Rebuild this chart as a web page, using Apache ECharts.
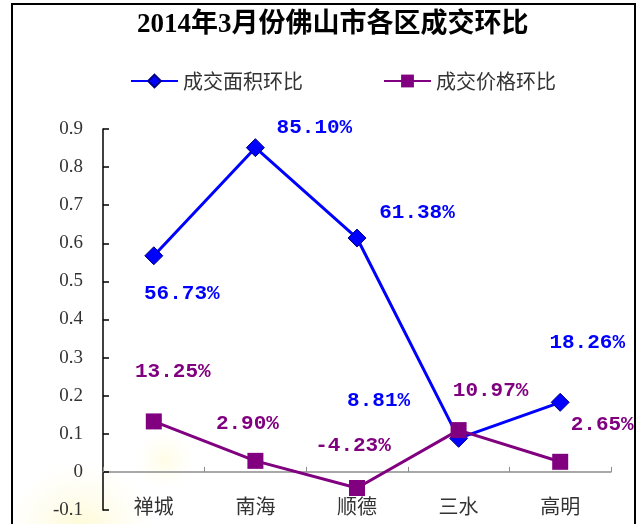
<!DOCTYPE html>
<html>
<head>
<meta charset="utf-8">
<script src="https://cdn.jsdelivr.net/npm/echarts@6/dist/echarts.min.js"></script>
<style>html,body{margin:0;padding:0;background:#fff;}#c{width:641px;height:524px;}</style>
</head>
<body>
<div id="c"></div>
<script>
// ---- data ----
var categories = ['禅城', '南海', '顺德', '三水', '高明'];
var areaName = '成交面积环比';
var priceName = '成交价格环比';
var areaValues = [0.5673, 0.8510, 0.6138, 0.0881, 0.1826];
var priceValues = [0.1325, 0.0290, -0.0423, 0.1097, 0.0265];
var yTicks = { min: -0.1, max: 0.9, interval: 0.1 };
var titleText = '2014年3月份佛山市各区成交环比';

// label offsets (styling, px relative to each marker)
var areaLabelOffsets = [[28, 38], [59, -20], [60, -25], [-80, -38], [27, -60]];
var priceLabelOffsets = [[19, -50], [-8, -37], [-4, -42], [32, -39], [42, -37]];

function pct(v) { return (v * 100).toFixed(2) + '%'; }

function buildData(values, offsets, color) {
  return values.map(function (v, i) {
    return {
      value: v,
      label: {
        show: true,
        position: 'inside',
        offset: offsets[i],
        align: 'center',
        verticalAlign: 'middle',
        formatter: function (p) { return pct(p.value); },
        color: color,
        fontFamily: '"Liberation Mono", "DejaVu Sans Mono", monospace',
        fontWeight: 'bold',
        fontSize: 21
      }
    };
  });
}

var chart = echarts.init(document.getElementById('c'), null, { renderer: 'canvas' });
chart.setOption({
  backgroundColor: '#ffffff',
  animation: false,
  graphic: [
    {
      type: 'circle', z: -10, silent: true,
      shape: { cx: 80, cy: 535, r: 75 },
      style: { fill: new echarts.graphic.RadialGradient(0.5, 0.5, 0.5, [
        { offset: 0, color: 'rgba(255,245,170,0.55)' },
        { offset: 1, color: 'rgba(255,250,210,0)' }
      ]) }
    },
    {
      type: 'circle', z: -10, silent: true,
      shape: { cx: 165, cy: 460, r: 30 },
      style: { fill: new echarts.graphic.RadialGradient(0.5, 0.5, 0.5, [
        { offset: 0, color: 'rgba(255,250,190,0.4)' },
        { offset: 1, color: 'rgba(255,250,220,0)' }
      ]) }
    },
    {
      type: 'rect', z: 100, silent: true,
      shape: { x: 12, y: 4, width: 623, height: 540 },
      style: { fill: 'none', stroke: '#000', lineWidth: 2 }
    }
  ],
  title: {
    text: titleText,
    left: 137,
    top: 12,
    padding: 0,
    textStyle: {
      fontFamily: '"Liberation Serif", "Noto Sans CJK SC", serif',
      fontSize: 27,
      fontWeight: 'bold',
      color: '#000'
    }
  },
  legend: {
    left: 130,
    top: 71,
    padding: 0,
    itemWidth: 47,
    itemHeight: 16,
    itemGap: 80,
    textStyle: {
      fontFamily: '"Noto Sans CJK SC", sans-serif',
      fontSize: 20,
      color: '#333'
    },
    data: [areaName, priceName]
  },
  grid: { left: 103, right: 30, top: 129, bottom: 14, containLabel: false, outerBoundsMode: 'none' },
  xAxis: {
    type: 'category',
    data: categories,
    boundaryGap: true,
    axisLine: { onZero: true, lineStyle: { color: '#8c8c8c', width: 1.5 } },
    axisTick: { show: true, inside: true, length: 5, lineStyle: { color: '#8c8c8c' } },
    axisLabel: {
      margin: -14,
      fontFamily: '"Noto Sans CJK SC", sans-serif',
      fontSize: 20,
      color: '#333'
    },
    splitLine: { show: false }
  },
  yAxis: {
    type: 'value',
    min: yTicks.min,
    max: yTicks.max,
    interval: yTicks.interval,
    axisLine: { show: true, onZero: false, lineStyle: { color: '#000', width: 1.5 } },
    axisTick: { show: true, inside: true, length: 6, lineStyle: { color: '#000', width: 1.5 } },
    axisLabel: {
      margin: 20,
      fontFamily: '"Liberation Serif", "DejaVu Serif", serif',
      fontSize: 19,
      color: '#333',
      formatter: function (v) {
        var r = Math.round(v * 10) / 10;
        return r === 0 ? '0' : r.toFixed(1);
      }
    },
    splitLine: { show: false }
  },
  series: [
    {
      name: areaName,
      type: 'line',
      data: buildData(areaValues, areaLabelOffsets, '#0000ff'),
      symbol: 'diamond',
      symbolSize: 18,
      showAllSymbol: true,
      lineStyle: { color: '#0000ff', width: 3 },
      itemStyle: { color: '#0000ff', borderColor: '#000080', borderWidth: 1 },
      z: 3
    },
    {
      name: priceName,
      type: 'line',
      data: buildData(priceValues, priceLabelOffsets, '#800080'),
      symbol: 'rect',
      symbolSize: 16,
      showAllSymbol: true,
      lineStyle: { color: '#800080', width: 3 },
      itemStyle: { color: '#800080', borderColor: '#800080', borderWidth: 0 },
      z: 4
    }
  ]
});
</script>
</body>
</html>
